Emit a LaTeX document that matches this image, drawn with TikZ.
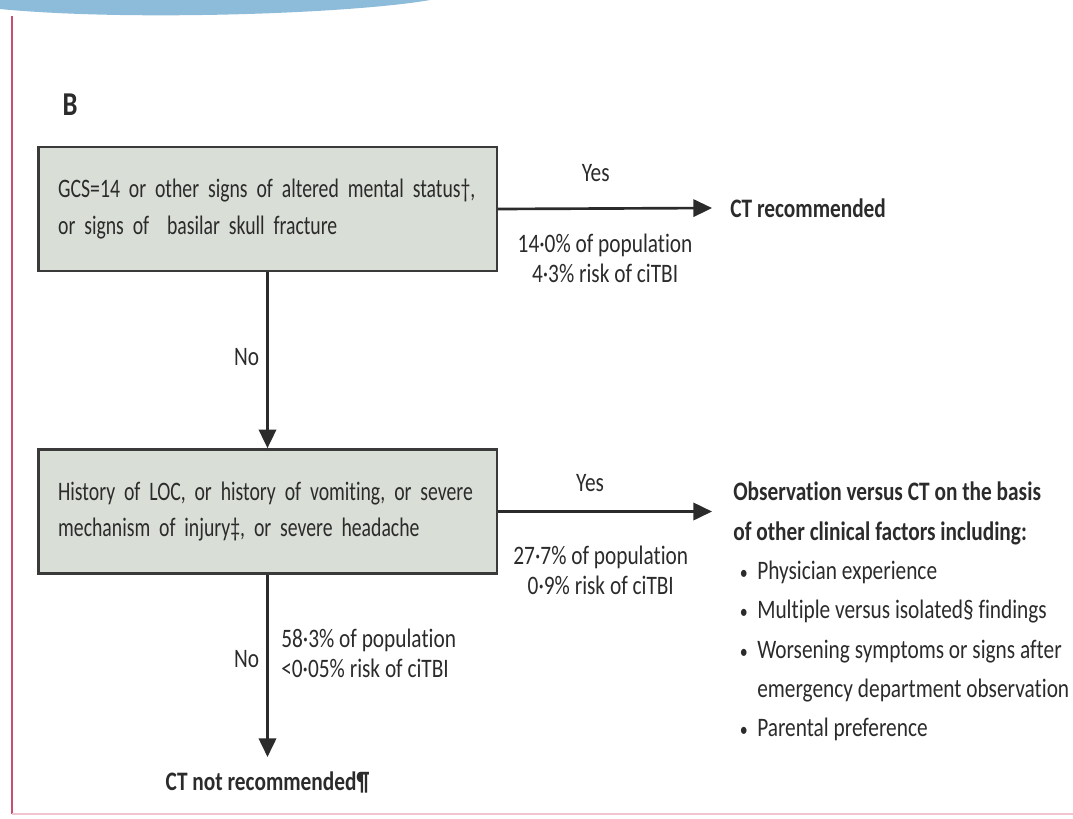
\documentclass[tikz,border=0pt]{standalone}
\usepackage{fontspec}
\setmainfont{Carlito}[FakeStretch=0.8, Ligatures=NoCommon]
\newfontfamily\boxfont{Carlito}[FakeStretch=0.74, Ligatures=NoCommon]
\usepackage{xcolor}
\usepackage{tikz}
\usetikzlibrary{positioning,arrows.meta}

\definecolor{boxfill}{HTML}{D9DED7}
\definecolor{boxline}{HTML}{3A3A3A}
\definecolor{inkgray}{HTML}{2B2B2B}
\definecolor{slideblue}{HTML}{8DBBDA}
\definecolor{slidered}{HTML}{C8506E}
\definecolor{slidepink}{HTML}{F2C4D0}

\newcommand{\bulitem}{\hspace*{5pt}\makebox[13pt][l]{\fontsize{15}{15}\selectfont •}}
\newcommand{\boxtext}{\boxfont\fontsize{20}{27.5}\selectfont\spaceskip=3.6pt plus 1pt minus 1pt\relax\hyphenpenalty=10000\relax}

\begin{document}
\begin{tikzpicture}[x=0.75pt,y=-0.75pt,
	every node/.style={text=inkgray, font=\fontsize{20}{28}\selectfont},
	question/.style={draw=boxline, fill=boxfill, line width=2pt, text width=314pt, align=left, inner xsep=15pt, minimum height=93pt, font=\boxtext},
	arr/.style={draw=inkgray, line width=2pt, -{Triangle[length=14pt,width=13pt]}},
	result/.style={font=\bfseries\fontsize{20}{29}\selectfont},
	stat/.style={align=center, font=\fontsize{20}{22.5}\selectfont}]
	\useasboundingbox (0,0) rectangle (1073,818);
	\fill[slideblue] (0,0) -- (430,0) .. controls (380,9) and (250,17) .. (120,15) .. controls (60,14) and (20,11) .. (0,9) -- cycle;
	\draw[slidered, line width=1.5pt] (12,16) -- (12,814);
	\draw[slidepink, line width=1.5pt] (12,814) -- (1073,814);

	\node[font=\bfseries\fontsize{25}{25}\selectfont] (panel) at (70,105) {B};

	\node[question] (q1) at (267.5,209) {GCS=14 or other signs of altered mental status†,\\or signs of\ \ basilar skull fracture\\[4pt]};
	\node[question] (q2) at (267.5,511.5) {History of LOC, or history of vomiting, or severe\\mechanism of injury‡, or severe headache\\[4pt]};

	\node[result, anchor=west, inner xsep=13.5pt] (ctyes) at (712,208) {CT recommended};
	\node[anchor=north west, inner xsep=15.75pt, inner ysep=0pt, align=left, font=\fontsize{20}{29.5}\selectfont] (obs) at (712,482) {%
		\textbf{Observation versus CT on the basis}\\
		\textbf{of other clinical factors including:}\\
		\bulitem Physician experience\\
		\bulitem Multiple versus isolated§ findings\\
		\bulitem Worsening symptoms or signs after\\
		\hspace*{18pt}emergency department observation\\
		\bulitem Parental preference};
	\node[result, anchor=north, inner ysep=11pt] (ctno) at (267.5,757) {CT not recommended¶};

	\draw[arr] (q1.east) -- (ctyes.west)
		node[pos=0.456, yshift=27pt] (yes1) {Yes}
		node[stat, pos=0.5, yshift=-37.5pt] (pop1) {14·0\% of population\\4·3\% risk of ciTBI};
	\draw[arr] (q2.east) -- (q2.east -| obs.west)
		node[pos=0.43, yshift=21pt] (yes2) {Yes}
		node[stat, pos=0.48, yshift=-44pt] (pop2) {27·7\% of population\\0·9\% risk of ciTBI};
	\draw[arr] (q1.south) -- (q2.north)
		node[pos=0.48, left=2pt] (no1) {No};
	\draw[arr] (q2.south) -- (ctno.north)
		node[pos=0.46, left=2pt] (no2) {No}
		node[stat, align=left, pos=0.43, right=6pt] (pop3) {58·3\% of population\\<0·05\% risk of ciTBI};
\end{tikzpicture}
\end{document}
